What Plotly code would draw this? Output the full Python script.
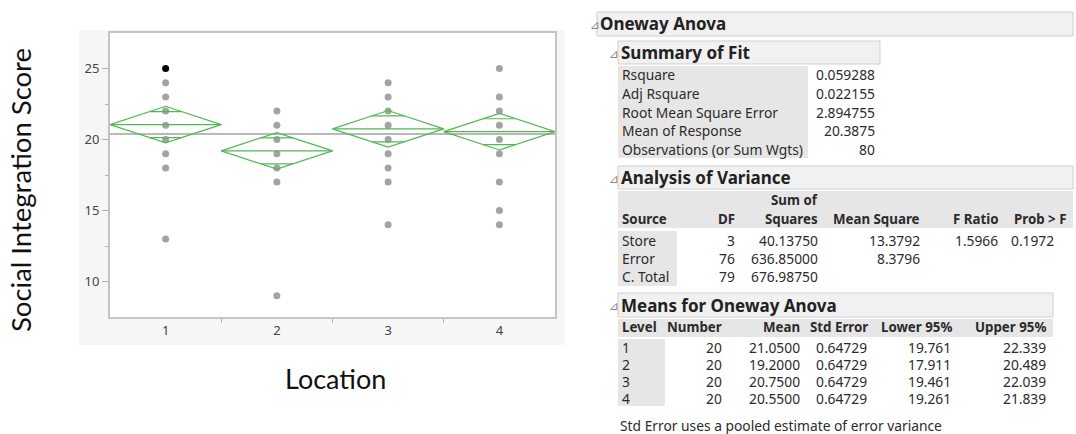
import math
import plotly.graph_objects as go

# ---- data -------------------------------------------------------------
locations = [1, 2, 3, 4]
# distinct observed scores per location (overlapping points drawn once)
scores = {
    1: [25, 24, 23, 22, 21, 20, 19, 18, 13],
    2: [22, 21, 20, 19, 18, 17, 9],
    3: [24, 23, 22, 21, 20, 19, 18, 17, 14],
    4: [25, 23, 22, 21, 20, 19, 17, 15, 14],
}
highlighted = (1, 25)  # selected row
level_n = [20, 20, 20, 20]
level_mean = [21.05, 19.20, 20.75, 20.55]
level_se = [0.64729, 0.64729, 0.64729, 0.64729]
level_lower = [19.761, 17.911, 19.461, 19.261]
level_upper = [22.339, 20.489, 22.039, 21.839]
grand_mean = 20.3875

fit_labels = ["Rsquare", "Adj Rsquare", "Root Mean Square Error",
              "Mean of Response", "Observations (or Sum Wgts)"]
fit_values = ["0.059288", "0.022155", "2.894755", "20.3875", "80"]

anova_source = ["Store", "Error", "C. Total"]
anova_df = ["3", "76", "79"]
anova_ss = ["40.13750", "636.85000", "676.98750"]
anova_ms = ["13.3792", "8.3796", ""]
anova_f = ["1.5966", "", ""]
anova_p = ["0.1972", "", ""]

W, H = 1076, 434
GREEN = "#52b852"
FONT = "Noto Sans"
BODY = 13.8
HEAD = 13.3
TITLE = 17

fig = go.Figure()

# ---- points -------------------------------------------------------------
px, py, pc = [], [], []
for loc in locations:
    for v in scores[loc]:
        px.append(loc)
        py.append(v)
        pc.append("#000000" if (loc, v) == highlighted else "#a3a3a3")
fig.add_trace(go.Scatter(x=px, y=py, mode="markers",
                         marker=dict(size=7, color=pc), hoverinfo="y",
                         showlegend=False))

# ---- grand mean line ----------------------------------------------------
fig.add_trace(go.Scatter(x=[0.5, 4.5], y=[grand_mean, grand_mean], mode="lines",
                         line=dict(color="#b9b9b9", width=2), hoverinfo="skip",
                         showlegend=False))

# ---- means diamonds -----------------------------------------------------
for loc, m, lo, up in zip(locations, level_mean, level_lower, level_upper):
    half = 0.5
    fig.add_trace(go.Scatter(
        x=[loc - half, loc, loc + half, loc, loc - half],
        y=[m, up, m, lo, m], mode="lines",
        line=dict(color=GREEN, width=1.2), hoverinfo="skip", showlegend=False))
    fig.add_trace(go.Scatter(x=[loc - half, loc + half], y=[m, m], mode="lines",
                             line=dict(color=GREEN, width=1.2), hoverinfo="skip",
                             showlegend=False))
    # overlap marks
    h = (up - m) / math.sqrt(2)
    w = half * (1 - 1 / math.sqrt(2))
    for yy in (m + h, m - h):
        fig.add_trace(go.Scatter(x=[loc - w, loc + w], y=[yy, yy], mode="lines",
                                 line=dict(color=GREEN, width=1.2),
                                 hoverinfo="skip", showlegend=False))

# ---- layout helpers -----------------------------------------------------
def xp(x):
    return x / W


def yp(y):
    return 1 - y / H


annotations = []
shapes = []


def text(x, y, s, size=BODY, bold=False, anchor="left", color="#2b2b2b", fam=FONT):
    annotations.append(dict(
        x=xp(x), y=yp(y), xref="paper", yref="paper", showarrow=False,
        text=f"<b>{s}</b>" if bold else s, xanchor=anchor, yanchor="middle",
        font=dict(family=fam, size=size, color=color)))


def rect(x0, y0, x1, y1, fill, line=None, layer="below"):
    shapes.append(dict(type="rect", xref="paper", yref="paper",
                       x0=xp(x0), x1=xp(x1), y0=yp(y1), y1=yp(y0),
                       fillcolor=fill, layer=layer,
                       line=dict(color=line or fill, width=1 if line else 0)))


def header(x_tri, x_bar0, x_bar1, y0, y1, title):
    rect(x_bar0, y0, x_bar1, y1, "#f1f1f1", "#cfcfcf")
    text(x_tri, (y0 + y1) / 2 + 1, "⊿", size=12, color="#8a8a8a", fam="DejaVu Sans")
    text(x_bar0 + 1, (y0 + y1) / 2, title, size=TITLE, bold=True, color="#222222")


# frame background around the plot area
rect(79, 30, 565, 345, "#f6f6f6")
rect(110, 33, 555, 317, "#ffffff")

# ---- Oneway Anova report ------------------------------------------------
header(588, 597, 1073, 12, 36, "Oneway Anova")

# Summary of Fit
header(607, 618, 880, 41, 64, "Summary of Fit")
rect(618, 66, 808, 158, "#e6e6e6")
fit_y = [75, 93.5, 112, 130.5, 149]
for lab, val, yy in zip(fit_labels, fit_values, fit_y):
    text(620, yy, lab)
    text(877, yy, val, anchor="right")

# Analysis of Variance
header(607, 618, 1073, 166, 189, "Analysis of Variance")
rect(618, 191, 1073, 228, "#e6e6e6")
rect(618, 231, 677, 286, "#e6e6e6")
text(820, 200, "Sum of", size=HEAD, bold=True, anchor="right")
hdr_y = 219
text(620, hdr_y, "Source", size=HEAD, bold=True)
text(737, hdr_y, "DF", size=HEAD, bold=True, anchor="right")
text(820, hdr_y, "Squares", size=HEAD, bold=True, anchor="right")
text(922, hdr_y, "Mean Square", size=HEAD, bold=True, anchor="right")
text(1001, hdr_y, "F Ratio", size=HEAD, bold=True, anchor="right")
text(1068, hdr_y, "Prob > F", size=HEAD, bold=True, anchor="right")
row_y = [240, 258, 276]
for i, yy in enumerate(row_y):
    text(620, yy, anova_source[i])
    text(737, yy, anova_df[i], anchor="right")
    text(820, yy, anova_ss[i], anchor="right")
    text(922, yy, anova_ms[i], anchor="right")
    text(1000, yy, anova_f[i], anchor="right")
    text(1056, yy, anova_p[i], anchor="right")

# Means for Oneway Anova
header(607, 618, 1053, 293, 317, "Means for Oneway Anova")
rect(618, 319, 1053, 337, "#e6e6e6")
rect(618, 339, 665, 406, "#e6e6e6")
mh_y = 327
text(620, mh_y, "Level", size=HEAD, bold=True)
text(724, mh_y, "Number", size=HEAD, bold=True, anchor="right")
text(802, mh_y, "Mean", size=HEAD, bold=True, anchor="right")
text(870, mh_y, "Std Error", size=HEAD, bold=True, anchor="right")
text(954, mh_y, "Lower 95%", size=HEAD, bold=True, anchor="right")
text(1048, mh_y, "Upper 95%", size=HEAD, bold=True, anchor="right")
mrow_y = [347, 364, 381, 398]
for i, yy in enumerate(mrow_y):
    text(620, yy, str(locations[i]))
    text(724, yy, str(level_n[i]), anchor="right")
    text(802, yy, f"{level_mean[i]:.4f}", anchor="right")
    text(869, yy, f"{level_se[i]:.5f}", anchor="right")
    text(953, yy, f"{level_lower[i]:.3f}", anchor="right")
    text(1048, yy, f"{level_upper[i]:.3f}", anchor="right")
text(618, 425, "Std Error uses a pooled estimate of error variance")

# axis titles
annotations.append(dict(x=xp(20), y=yp(190), xref="paper", yref="paper",
                        xanchor="center", yanchor="middle",
                        text="Social Integration Score", textangle=-90,
                        showarrow=False, font=dict(family="Lato", size=27.5, color="#111111")))
annotations.append(dict(x=xp(335), y=yp(378), xref="paper", yref="paper",
                        xanchor="center", yanchor="middle",
                        text="Location", showarrow=False,
                        font=dict(family="Lato", size=27, color="#111111")))

AX = "#c4c4c4"
fig.update_layout(
    width=W, height=H, margin=dict(l=0, r=0, t=0, b=0),
    paper_bgcolor="#ffffff", plot_bgcolor="#ffffff",
    showlegend=False, annotations=annotations, shapes=shapes,
    xaxis=dict(domain=[xp(110), xp(555)], range=[0.5, 4.5],
               tickvals=locations, ticktext=[str(l) for l in locations],
               ticks="", showgrid=False, zeroline=False,
               showline=True, linecolor=AX, linewidth=2, mirror=True,
               tickfont=dict(family=FONT, size=13, color="#444444"),
               minor=dict(tickvals=[1.5, 2.5, 3.5], ticks="outside", ticklen=4,
                          tickcolor="#b0b0b0", showgrid=False)),
    yaxis=dict(domain=[yp(317), yp(33)], range=[7.5, 27.5],
               tickvals=[10, 15, 20, 25], ticks="outside", ticklen=6,
               tickcolor="#b0b0b0", showgrid=False, zeroline=False,
               showline=True, linecolor=AX, linewidth=2, mirror=True,
               tickfont=dict(family=FONT, size=13, color="#444444"),
               minor=dict(tickvals=[12.5, 17.5, 22.5], ticks="outside", ticklen=3,
                          tickcolor="#b0b0b0", showgrid=False)),
)

fig.write_html("out.html")
